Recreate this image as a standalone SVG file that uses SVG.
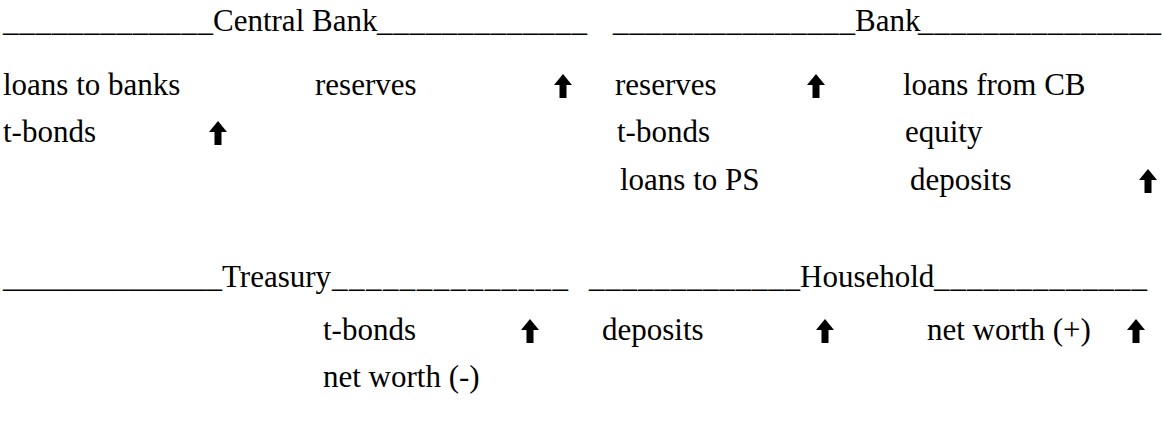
<svg xmlns="http://www.w3.org/2000/svg" width="1163" height="428" viewBox="0 0 1163 428" font-family="Liberation Serif, Times New Roman, DejaVu Serif, serif" font-size="31">
<style>
text{font-family:'Liberation Serif','Times New Roman','DejaVu Serif',serif;font-size:31px;fill:#000}
</style>
<defs>
<path id="up" d="M9 0 L18 11 L12.5 11 L12.5 24 L5.5 24 L5.5 11 L0 11 Z" fill="#000"/>
</defs>
<rect width="1163" height="428" fill="#fff"/>
<g id="central-bank">
<text x="3" y="31" textLength="210" lengthAdjust="spacing">_____________</text>
<text x="213" y="31">Central Bank</text>
<text x="377" y="31" textLength="210" lengthAdjust="spacing">_____________</text>
<text x="3" y="95">loans to banks</text>
<text x="315" y="95">reserves</text>
<use href="#up" x="554" y="74"/>
<text x="3" y="142">t-bonds</text>
<use href="#up" x="209" y="121"/>
</g>
<g id="bank">
<text x="613" y="31" textLength="242" lengthAdjust="spacing">_______________</text>
<text x="855" y="31">Bank</text>
<text x="918" y="31" textLength="243" lengthAdjust="spacing">_______________</text>
<text x="615" y="95">reserves</text>
<use href="#up" x="807" y="74"/>
<text x="903" y="95">loans from CB</text>
<text x="617" y="142">t-bonds</text>
<text x="905" y="142">equity</text>
<text x="620" y="190">loans to PS</text>
<text x="910" y="190">deposits</text>
<use href="#up" x="1139" y="169"/>
</g>
<g id="treasury">
<text x="3" y="287" textLength="219" lengthAdjust="spacing">______________</text>
<text x="222" y="287">Treasury</text>
<text x="332" y="287" textLength="236" lengthAdjust="spacing">______________</text>
<text x="323" y="340">t-bonds</text>
<use href="#up" x="521" y="319"/>
<text x="323" y="387">net worth (-)</text>
</g>
<g id="household">
<text x="589" y="287" textLength="211" lengthAdjust="spacing">_____________</text>
<text x="800" y="287">Household</text>
<text x="934" y="287" textLength="213" lengthAdjust="spacing">_____________</text>
<text x="602" y="340">deposits</text>
<use href="#up" x="816" y="319"/>
<text x="927" y="340">net worth (+)</text>
<use href="#up" x="1127" y="319"/>
</g>
<g id="connectors"></g>
</svg>
